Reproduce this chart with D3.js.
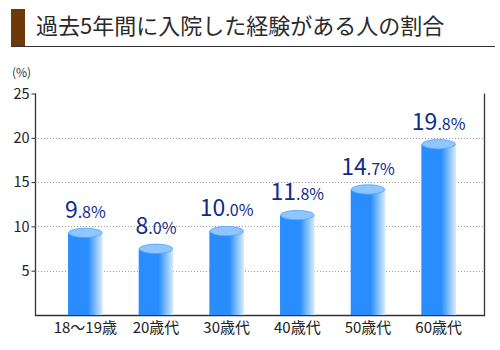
<!DOCTYPE html>
<html>
<head>
<meta charset="utf-8">
<script src="https://cdn.jsdelivr.net/npm/d3@7"></script>
<style>
  body { margin: 0; background: #fff; }
  text { font-family: "Noto Sans CJK JP", "Noto Sans", sans-serif; }
</style>
</head>
<body>
<script>
const title = "過去5年間に入院した経験がある人の割合";
const categories = ["18〜19歳", "20歳代", "30歳代", "40歳代", "50歳代", "60歳代"];
const values = [9.8, 8.0, 10.0, 11.8, 14.7, 19.8];
const yTicks = [5, 10, 15, 20, 25];

const width = 500;
const height = 350;
const svg = d3.select("body").append("svg").attr("width", width).attr("height", height);

// 見出し
svg.append("rect").attr("x", 11).attr("y", 9).attr("width", 14).attr("height", 37).attr("fill", "#6b3a08");
svg.append("line").attr("x1", 11).attr("x2", 495).attr("y1", 46.5).attr("y2", 46.5)
  .attr("stroke", "#333").attr("stroke-width", 1);
svg.append("text").attr("x", 36).attr("y", 34).attr("font-size", 22).attr("fill", "#2a2a2a").text(title);

/** 尺度 */
const plotL = 35, plotR = 484, plotT = 93.5, plotB = 315;
const yScale = d3.scaleLinear().domain([0, 25]).range([plotB, plotT]);
const xScale = d3.scaleBand().domain(categories).range([50, 474]).paddingInner(0.51).paddingOuter(0.255);

// グリッド
svg.append("g").selectAll("line").data(yTicks.filter(d => d < 25)).join("line")
  .attr("x1", plotL).attr("x2", plotR)
  .attr("y1", d => Math.round(yScale(d)) + 0.5).attr("y2", d => Math.round(yScale(d)) + 0.5)
  .attr("stroke", "#999").attr("stroke-dasharray", "1,2");

// 枠
svg.append("path")
  .attr("d", `M${plotL + 0.5},${plotT}V${plotB + 0.5}H${plotR + 0.5}V${plotT}`)
  .attr("fill", "none").attr("stroke", "#333").attr("stroke-width", 1.3);

// y 軸ラベル
const axisy = d3.axisLeft(yScale).tickValues(yTicks).tickSize(4).tickPadding(2);
const gy = svg.append("g").attr("transform", `translate(${plotL + 0.5},0)`).call(axisy);
gy.select(".domain").remove();
gy.selectAll(".tick line").attr("stroke", "#333");
gy.selectAll("text").attr("font-size", 14.5).attr("fill", "#222").attr("font-family", "\"Noto Sans CJK JP\", sans-serif");
svg.append("text").attr("x", 12).attr("y", 77).attr("font-size", 12).attr("fill", "#333").text("(%)");

// x 軸ラベル
svg.append("g").selectAll("text").data(categories).join("text")
  .attr("x", d => xScale(d) + xScale.bandwidth() / 2).attr("y", 333)
  .attr("text-anchor", "middle").attr("font-size", 15).attr("fill", "#222")
  .text(d => d);

// 円柱
const defs = svg.append("defs");
const grad = defs.append("linearGradient").attr("id", "cyl").attr("x1", 0).attr("x2", 1).attr("y1", 0).attr("y2", 0);
grad.append("stop").attr("offset", "0%").attr("stop-color", "#2a8dff");
grad.append("stop").attr("offset", "58%").attr("stop-color", "#2a8dff");
grad.append("stop").attr("offset", "100%").attr("stop-color", "#d8ecff");

const ry = 4.7;
const bw = xScale.bandwidth();
const bars = svg.append("g").selectAll("g").data(values).join("g");
bars.append("rect")
  .attr("x", (d, i) => xScale(categories[i]))
  .attr("y", d => yScale(d) + ry)
  .attr("width", bw)
  .attr("height", d => plotB - yScale(d) - ry)
  .attr("fill", "url(#cyl)");
bars.append("ellipse")
  .attr("cx", (d, i) => xScale(categories[i]) + bw / 2)
  .attr("cy", d => yScale(d) + ry)
  .attr("rx", bw / 2 - 0.5).attr("ry", ry)
  .attr("fill", "#90c6ff").attr("stroke", "#4ea2ff").attr("stroke-width", 0.8);

// 値ラベル
const labels = bars.append("text")
  .attr("x", (d, i) => xScale(categories[i]) + bw / 2)
  .attr("y", d => yScale(d) - 10)
  .attr("text-anchor", "middle").attr("fill", "#0f2c8c");
labels.append("tspan").attr("font-size", 23).text(d => Math.floor(d));
labels.append("tspan").attr("font-size", 16).text(d => "." + Math.round((d % 1) * 10) + "%");
</script>
</body>
</html>
